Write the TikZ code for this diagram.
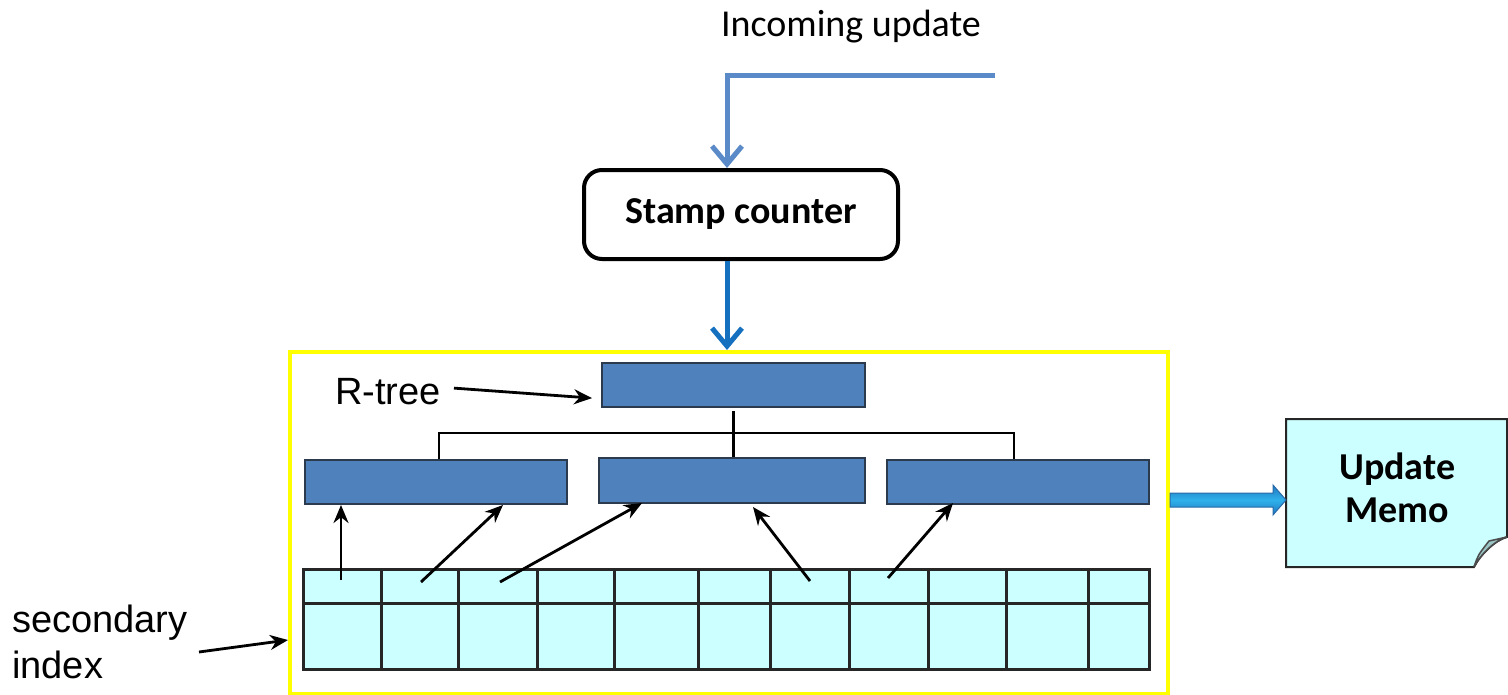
\documentclass[tikz,border=0pt]{standalone}
\usepackage{fontspec}
\newfontfamily\calfont{Carlito}
\newfontfamily\arialfont{Liberation Sans}
\usetikzlibrary{arrows.meta,calc}
\definecolor{steel}{HTML}{4F81BD}
\definecolor{inblue}{HTML}{5A8AC8}
\definecolor{outblue}{HTML}{1570C0}
\definecolor{gridcyan}{HTML}{CCFFFF}
\definecolor{boxborder}{HTML}{2B3A4C}
\definecolor{foldcol}{HTML}{9CC6C6}
\definecolor{arrlight}{HTML}{2FB0EA}
\definecolor{arrdark}{HTML}{1F78C0}
\definecolor{arrborder}{HTML}{2A6AA8}
\definecolor{frameyellow}{HTML}{FFFF00}
\begin{document}
\begin{tikzpicture}[x=1pt,y=-1pt,
  tbox/.style={draw=boxborder, fill=steel, line width=2.2pt, anchor=north west, inner sep=0pt},
  arr/.style={line width=2.8pt, -{Stealth[length=18pt,width=15pt]}},
  treeline/.style={line width=2.4pt, black},
  gridline/.style={line width=3pt, black!85},
  vhead/.style={-{Straight Barb[length=18pt,width=30pt,line width=5pt]}},
  cal/.style={font=\calfont\fontsize{38}{44}\selectfont},
  calb/.style={font=\calfont\bfseries\fontsize{38}{43}\selectfont},
  arl/.style={font=\arialfont\fontsize{38}{46}\selectfont}
]
\useasboundingbox (0,0) rectangle (1508,694);

% title
\node[cal, anchor=base] (inc) at (851,36) {Incoming update};
\coordinate (incend) at (995,75);
\coordinate (incbend) at (727,75);

% stamp counter
\node[draw, line width=4pt, rounded corners=18pt, minimum width=314pt, minimum height=89pt,
      anchor=north west, inner sep=0pt, calb] (stamp) at (582,168) {Stamp counter};

\draw[inblue, line width=5pt, vhead] (incend) -- (incbend) -- (incbend |- stamp.north);

% frame
\node[draw=frameyellow, line width=4pt, minimum width=878pt, minimum height=342pt,
      anchor=north west, inner sep=0pt] (frame) at (288,350) {};

\draw[outblue, line width=5pt, vhead] (incbend |- stamp.south) -- (incbend |- frame.north);

% tree boxes
\node[tbox, minimum width=263pt, minimum height=44pt] (root) at (601,362) {};
\node[tbox, minimum width=262pt, minimum height=44pt] (lb) at (304,459) {};
\node[tbox, minimum width=266pt, minimum height=45pt] (mb) at (598,457) {};
\node[tbox, minimum width=262pt, minimum height=44pt] (rb) at (886,459) {};

\coordinate (hl) at (439,433);
\coordinate (hr) at (1014,433);
\draw[treeline] ($(root.south)+(0,3)$) -- (root.south |- mb.north);
\draw[treeline] (lb.north -| hl) -- (hl) -- (hr) -- (rb.north -| hr);

% R-tree label
\node[arl, anchor=base west, inner sep=0pt] (rlab) at (335,404) {R-tree};
\draw[arr] ($(rlab.east)+(13,-3)$) -- ($(root.west)+(-9,13)$);

% grid
\node[draw=black!85, fill=gridcyan, line width=3pt, minimum width=846pt, minimum height=100pt,
      anchor=north west, inner sep=0pt] (grid) at (302,568) {};
\foreach \x in {381,458,537,614,698,770,849,928,1006,1088}
  \draw[gridline] (\x,568) -- (\x,668);
\draw[gridline] (302,603) -- (1148,603);

% arrows grid -> boxes
\coordinate (s1) at (341,580); \coordinate (e1) at (341,505);
\coordinate (s2) at (421,582); \coordinate (e2) at (503,505);
\coordinate (s3) at (500,582); \coordinate (e3) at (642,503);
\coordinate (s4) at (810,581); \coordinate (e4) at (753,507);
\coordinate (s5) at (888,578); \coordinate (e5) at (953,503);
\draw[arr] (s1) -- (e1);
\draw[arr] (s2) -- (e2);
\draw[arr] (s3) -- (e3);
\draw[arr] (s4) -- (e4);
\draw[arr] (s5) -- (e5);

% secondary index label
\node[arl, anchor=base west, align=left, inner sep=0pt] (sec) at (12,678) {secondary\\index};
\coordinate (secs) at (199,652);
\draw[arr] (secs) -- (frame.west |- 0,640);

% update memo shape
\draw[draw=black!85, line width=2pt, fill=gridcyan]
  (1286,419) -- (1507,419) -- (1507,537)
  .. controls (1495,540) and (1480,555) .. (1474,567) -- (1286,567) -- cycle;
\draw[draw=black!70, line width=1.5pt, fill=foldcol]
  (1474,567) .. controls (1478,555) .. (1489,541) -- (1507,537)
  .. controls (1495,540) and (1480,555) .. (1474,567) -- cycle;
\node[anchor=north west, minimum width=222pt, minimum height=138pt, inner sep=0pt,
      align=center, calb] (memo) at (1286,419) {Update\\Memo};

% thick arrow frame -> memo
\coordinate (fa) at (frame.east |- 0,500);
\coordinate (fb) at (1286,500);
\shade[top color=arrdark, bottom color=arrdark, middle color=arrlight, draw=arrborder, line width=1pt]
  ($(fa)+(0,-7)$) -- ($(fb)+(-13,-7)$) -- ($(fb)+(-13,-15)$) -- (fb)
  -- ($(fb)+(-13,15)$) -- ($(fb)+(-13,7)$) -- ($(fa)+(0,7)$) -- cycle;
\end{tikzpicture}
\end{document}
